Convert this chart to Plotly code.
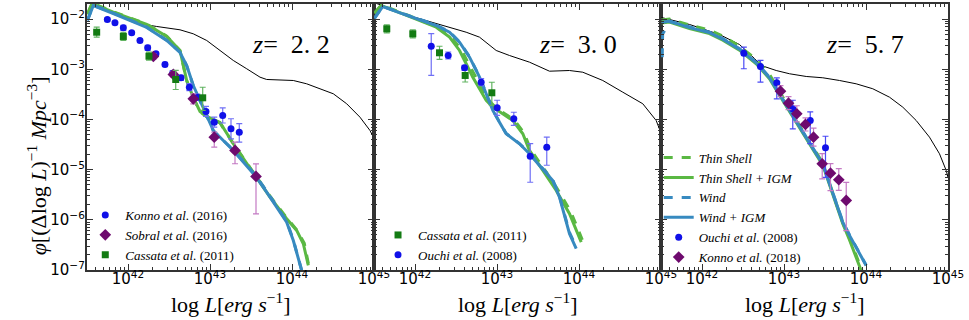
import plotly.graph_objects as go
from plotly.subplots import make_subplots

# values: log10 L [erg/s] and log10 phi [Mpc^-3 dex^-1]

# ---------------- z = 2.2 ----------------
z22_model_logL = [41.506, 41.618, 41.780, 41.984, 42.146, 42.350, 42.634, 42.796, 42.960, 43.122,
                  43.284, 43.448, 43.610, 43.691, 43.854, 44.016, 44.179, 44.341, 44.504, 44.667,
                  44.829, 44.951, 45.0]
z22_model_logphi = [-1.66, -1.730, -1.863, -1.995, -2.094, -2.148, -2.214, -2.294, -2.427, -2.626,
                    -2.825, -2.991, -3.158, -3.204, -3.210, -3.224, -3.290, -3.389, -3.489, -3.688,
                    -3.955, -4.220, -4.38]

z22_wind_igm_logL = [41.506, 41.577, 41.821, 42.228, 42.472, 42.634, 42.716, 42.796, 42.878, 42.960,
                     43.040, 43.284, 43.549, 43.691, 43.854, 43.935, 44.016, 44.098, 44.118]
z22_wind_igm_logphi = [-2.029, -1.730, -1.889, -2.168, -2.427, -2.666, -2.925, -3.324, -3.622, -3.921,
                       -4.220, -4.618, -5.116, -5.449, -5.848, -6.047, -6.412, -6.876, -7.01]
z22_wind_logL = [41.506, 41.577, 41.821, 42.228, 42.472, 42.634, 42.716, 42.796, 42.878, 42.960,
                 43.040, 43.284, 43.549, 43.691, 43.854, 43.935, 44.016, 44.098, 44.12]
z22_wind_logphi = [-2.02, -1.725, -1.880, -2.160, -2.420, -2.660, -2.930, -3.330, -3.630, -3.925,
                   -4.225, -4.610, -5.100, -5.430, -5.830, -6.030, -6.400, -6.860, -7.02]

z22_shell_igm_logL = [41.506, 41.561, 41.821, 42.228, 42.472, 42.634, 42.716, 42.796, 42.878, 42.960,
                      43.040, 43.122, 43.284, 43.448, 43.549, 43.732, 43.935, 44.057, 44.138, 44.179,
                      44.199]
z22_shell_igm_logphi = [-1.909, -1.69, -1.863, -2.108, -2.347, -2.626, -3.224, -3.563, -3.841, -3.941,
                        -4.001, -4.061, -4.485, -4.883, -5.116, -5.549, -5.979, -6.212, -6.477, -6.770,
                        -6.909]
z22_shell_logL = [41.506, 41.561, 41.821, 42.228, 42.472, 42.634, 42.716, 42.796, 42.878, 42.960,
                  43.040, 43.122, 43.284, 43.448, 43.549, 43.732, 43.935, 44.057, 44.150, 44.190,
                  44.215]
z22_shell_logphi = [-1.90, -1.68, -1.855, -2.100, -2.340, -2.630, -3.230, -3.570, -3.845, -3.945,
                    -4.005, -4.070, -4.480, -4.870, -5.100, -5.530, -5.960, -6.200, -6.470, -6.760,
                    -7.00]

# Konno et al. (2016)
z22_konno_logL = [41.748, 41.841, 41.943, 42.045, 42.146, 42.240, 42.341, 42.451, 42.545, 42.646,
                  42.748, 42.845, 42.951, 43.052, 43.155, 43.256, 43.357]
z22_konno_logphi = [-2.009, -2.075, -2.174, -2.274, -2.427, -2.573, -2.692, -2.905, -3.078, -3.170,
                    -3.357, -3.557, -3.841, -4.055, -3.921, -4.186, -4.254]
z22_konno_up = [0.03, 0.03, 0.05, 0.03, 0.03, 0.05, 0.04, 0.04, 0.05, 0.05, 0.07, 0.06, 0.10, 0.10,
                0.15, 0.20, 0.17]
z22_konno_dn = [0.03, 0.03, 0.05, 0.03, 0.03, 0.05, 0.04, 0.04, 0.05, 0.05, 0.07, 0.06, 0.10, 0.10,
                0.15, 0.20, 0.20]
# Sobral et al. (2016)
z22_sobral_logL = [42.309, 42.553, 42.796, 43.052, 43.305, 43.561]
z22_sobral_logphi = [-2.746, -3.104, -3.589, -4.353, -4.618, -5.136]
z22_sobral_up = [0.06, 0.06, 0.10, 0.10, 0.165, 0.25]
z22_sobral_dn = [0.06, 0.06, 0.10, 0.20, 0.265, 0.744]
# Cassata et al. (2011)
z22_cassata_logL = [41.618, 41.943, 42.256, 42.582, 42.911]
z22_cassata_logphi = [-2.262, -2.347, -2.740, -3.204, -3.569]
z22_cassata_up = [0.10, 0.08, 0.08, 0.18, 0.21]
z22_cassata_dn = [0.10, 0.08, 0.08, 0.20, 0.25]

# ---------------- z = 3.0 ----------------
z30_model_logL = [41.51, 41.607, 41.851, 42.259, 42.624, 42.787, 42.990, 43.152, 43.396, 43.640,
                  43.884, 44.046, 44.290, 44.534, 44.778, 44.941, 45.0]
z30_model_logphi = [-1.68, -1.730, -1.895, -2.094, -2.262, -2.361, -2.626, -2.726, -2.859, -3.039,
                    -3.025, -3.059, -3.224, -3.457, -3.688, -4.021, -4.27]

z30_wind_igm_logL = [41.506, 41.607, 41.851, 42.259, 42.421, 42.543, 42.665, 42.787, 42.868, 42.949,
                     43.030, 43.112, 43.274, 43.396, 43.518, 43.680, 43.762, 43.884, 43.966]
z30_wind_igm_logphi = [-1.989, -1.750, -1.895, -2.128, -2.262, -2.461, -2.760, -3.158, -3.489, -3.821,
                       -4.055, -4.286, -4.485, -4.684, -4.917, -5.216, -5.549, -6.278, -6.576]
z30_wind_logL = [41.506, 41.607, 41.851, 42.259, 42.421, 42.543, 42.665, 42.787, 42.868, 42.949,
                 43.030, 43.112, 43.274, 43.396, 43.518, 43.680, 43.762, 43.884, 43.97]
z30_wind_logphi = [-1.98, -1.745, -1.890, -2.120, -2.255, -2.455, -2.750, -3.150, -3.480, -3.815,
                   -4.050, -4.280, -4.480, -4.675, -4.905, -5.200, -5.530, -6.250, -6.56]

z30_shell_igm_logL = [41.506, 41.588, 41.851, 42.259, 42.421, 42.543, 42.624, 42.705, 42.787, 42.868,
                      42.949, 43.071, 43.193, 43.315, 43.396, 43.559, 43.722, 43.884, 44.027]
z30_shell_igm_logphi = [-1.889, -1.730, -1.895, -2.162, -2.361, -2.626, -2.891, -3.158, -3.389, -3.622,
                        -3.756, -3.887, -4.021, -4.286, -4.618, -5.016, -5.415, -5.879, -6.445]
z30_shell_logL = [41.506, 41.588, 41.851, 42.259, 42.430, 42.565, 42.650, 42.735, 42.815, 42.895,
                  42.975, 43.090, 43.210, 43.330, 43.410, 43.575, 43.735, 43.900, 44.040]
z30_shell_logphi = [-1.88, -1.72, -1.885, -2.150, -2.340, -2.610, -2.880, -3.150, -3.380, -3.610,
                    -3.750, -3.880, -4.010, -4.270, -4.600, -4.990, -5.380, -5.840, -6.400]

# Cassata et al. (2011)
z30_cassata_logL = [41.656, 41.973, 42.299, 42.612, 42.937]
z30_cassata_logphi = [-2.194, -2.294, -2.672, -3.124, -3.469]
z30_cassata_up = [0.08, 0.08, 0.13, 0.13, 0.21]
z30_cassata_dn = [0.08, 0.08, 0.13, 0.13, 0.25]
# Ouchi et al. (2008)
z30_ouchi_logL = [42.198, 42.405, 42.604, 42.807, 43.002, 43.205, 43.405, 43.607]
z30_ouchi_logphi = [-2.541, -2.726, -2.971, -3.258, -3.768, -3.987, -4.732, -4.553]
z30_ouchi_up = [0.25, 0.07, 0.05, 0.07, 0.15, 0.13, 0.25, 0.20]
z30_ouchi_dn = [0.58, 0.07, 0.05, 0.07, 0.15, 0.13, 0.52, 0.36]

# ---------------- z = 5.7 ----------------
z57_model_logL = [41.506, 41.848, 42.213, 42.457, 42.640, 42.722, 42.905, 43.067, 43.271, 43.473,
                  43.677, 43.880, 44.083, 44.287, 44.449, 44.612, 44.774, 44.896, 44.978, 45.0]
z57_model_logphi = [-1.969, -2.108, -2.308, -2.507, -2.786, -2.925, -3.025, -3.090, -3.144, -3.170,
                    -3.224, -3.290, -3.389, -3.557, -3.756, -4.021, -4.353, -4.684, -5.017, -5.156]

z57_wind_igm_logL = [41.506, 41.604, 41.848, 42.091, 42.254, 42.457, 42.661, 42.823, 42.945, 43.067,
                     43.189, 43.311, 43.372, 43.473, 43.555, 43.637, 43.717, 43.799, 43.880, 44.002]
z57_wind_igm_logphi = [-2.07, -2.04, -2.17, -2.27, -2.40, -2.60, -2.87, -3.17, -3.50, -3.83,
                       -4.16, -4.49, -4.63, -4.89, -5.28, -5.68, -6.05, -6.31, -6.55, -6.91]
z57_wind_logL = [41.515, 41.520, 41.604, 41.848, 42.091, 42.254, 42.457, 42.661, 42.823, 42.945,
                 43.067, 43.189, 43.311, 43.372, 43.473, 43.555, 43.637, 43.717, 43.799, 43.880,
                 44.000]
z57_wind_logphi = [-2.76, -2.30, -2.05, -2.16, -2.26, -2.39, -2.59, -2.86, -3.16, -3.49,
                   -3.82, -4.15, -4.48, -4.62, -4.88, -5.27, -5.67, -6.04, -6.30, -6.54, -6.90]

z57_shell_igm_logL = [41.506, 41.604, 41.848, 42.091, 42.254, 42.457, 42.661, 42.823, 42.945, 43.067,
                      43.189, 43.311, 43.372, 43.473, 43.555, 43.637, 43.717, 43.799, 43.880, 43.950]
z57_shell_igm_logphi = [-2.08, -2.06, -2.19, -2.29, -2.42, -2.62, -2.89, -3.19, -3.52, -3.85,
                        -4.18, -4.51, -4.65, -4.91, -5.30, -5.70, -6.08, -6.40, -6.75, -7.05]
z57_shell_logL = [41.506, 41.604, 41.848, 42.091, 42.254, 42.457, 42.661, 42.823, 42.945, 43.067,
                  43.189, 43.311, 43.372, 43.473, 43.555, 43.637, 43.717, 43.799, 43.880, 43.950]
z57_shell_logphi = [-2.02, -2.00, -2.12, -2.22, -2.34, -2.54, -2.80, -3.10, -3.44, -3.78,
                    -4.12, -4.46, -4.60, -4.87, -5.27, -5.67, -6.06, -6.37, -6.70, -7.00]

# Ouchi et al. (2008)
z57_ouchi_logL = [42.510, 42.713, 42.912, 43.107, 43.320, 43.506]
z57_ouchi_logphi = [-2.680, -2.945, -3.270, -3.788, -4.021, -4.565]
z57_ouchi_up = [0.12, 0.12, 0.10, 0.17, 0.17, 0.23]
z57_ouchi_dn = [0.31, 0.31, 0.32, 0.40, 0.46, 0.59]
# Konno et al. (2018)
z57_konno_logL = [42.957, 43.055, 43.156, 43.262, 43.360, 43.466, 43.567, 43.668, 43.759]
z57_konno_logphi = [-3.437, -3.676, -3.887, -4.100, -4.353, -4.883, -5.070, -5.202, -5.614]
z57_konno_up = [0.11, 0.13, 0.16, 0.13, 0.18, 0.20, 0.19, 0.22, 0.36]
z57_konno_dn = [0.11, 0.13, 0.16, 0.13, 0.18, 0.30, 0.35, 0.21, 0.60]

GREEN = "#5ab843"
BLUE = "#378ac0"
SERIF = "Liberation Serif"


def lin(v):
    return [10 ** a for a in v]


def model_lines(fig, col, model, shell, shell_igm, wind, wind_igm, legend=None):
    show = legend is not None
    fig.add_trace(go.Scatter(x=lin(model[0]), y=lin(model[1]), mode="lines",
                             line=dict(color="black", width=1), showlegend=False), row=1, col=col)
    styles = [("<i>Thin Shell</i>", shell, GREEN, "dash"),
              ("<i>Thin Shell + IGM</i>", shell_igm, GREEN, "solid"),
              ("<i>Wind</i>", wind, BLUE, "dash"),
              ("<i>Wind + IGM</i>", wind_igm, BLUE, "solid")]
    for name, (xs, ys), color, dash in styles:
        fig.add_trace(go.Scatter(x=lin(xs), y=lin(ys), mode="lines", name=name,
                                 line=dict(color=color, width=3, dash=dash),
                                 showlegend=show, legend=legend or "legend"), row=1, col=col)


def points(fig, col, name, logL, logphi, up, dn, symbol, color, ecolor, size, legend):
    y = lin(logphi)
    plus = [10 ** (a + u) - 10 ** a for a, u in zip(logphi, up)]
    minus = [10 ** a - 10 ** (a - d) for a, d in zip(logphi, dn)]
    fig.add_trace(go.Scatter(x=lin(logL), y=y, mode="markers", name=name,
                             marker=dict(symbol=symbol, color=color, size=size),
                             error_y=dict(type="data", array=plus, arrayminus=minus,
                                          color=ecolor, thickness=1.2, width=3),
                             legend=legend), row=1, col=col)


fig = make_subplots(rows=1, cols=3, shared_yaxes=True, horizontal_spacing=0)

model_lines(fig, 1, (z22_model_logL, z22_model_logphi), (z22_shell_logL, z22_shell_logphi),
            (z22_shell_igm_logL, z22_shell_igm_logphi), (z22_wind_logL, z22_wind_logphi),
            (z22_wind_igm_logL, z22_wind_igm_logphi))
points(fig, 1, "<i>Konno et al.</i> (2016)", z22_konno_logL, z22_konno_logphi, z22_konno_up, z22_konno_dn,
       "circle", "#1010e8", "#6f6ff5", 7, "legend")
points(fig, 1, "<i>Sobral et al.</i> (2016)", z22_sobral_logL, z22_sobral_logphi, z22_sobral_up, z22_sobral_dn,
       "diamond", "#6e0a6e", "#c47ac4", 9, "legend")
points(fig, 1, "<i>Cassata et al.</i> (2011)", z22_cassata_logL, z22_cassata_logphi, z22_cassata_up,
       z22_cassata_dn, "square", "#137b13", "#62b462", 7, "legend")

model_lines(fig, 2, (z30_model_logL, z30_model_logphi), (z30_shell_logL, z30_shell_logphi),
            (z30_shell_igm_logL, z30_shell_igm_logphi), (z30_wind_logL, z30_wind_logphi),
            (z30_wind_igm_logL, z30_wind_igm_logphi))
points(fig, 2, "<i>Cassata et al.</i> (2011)", z30_cassata_logL, z30_cassata_logphi, z30_cassata_up,
       z30_cassata_dn, "square", "#137b13", "#62b462", 7, "legend2")
points(fig, 2, "<i>Ouchi et al.</i> (2008)", z30_ouchi_logL, z30_ouchi_logphi, z30_ouchi_up, z30_ouchi_dn,
       "circle", "#1010e8", "#6f6ff5", 7, "legend2")

model_lines(fig, 3, (z57_model_logL, z57_model_logphi), (z57_shell_logL, z57_shell_logphi),
            (z57_shell_igm_logL, z57_shell_igm_logphi), (z57_wind_logL, z57_wind_logphi),
            (z57_wind_igm_logL, z57_wind_igm_logphi), legend="legend3")
points(fig, 3, "<i>Ouchi et al.</i> (2008)", z57_ouchi_logL, z57_ouchi_logphi, z57_ouchi_up, z57_ouchi_dn,
       "circle", "#1010e8", "#4a4af5", 7, "legend3")
points(fig, 3, "<i>Konno et al.</i> (2018)", z57_konno_logL, z57_konno_logphi, z57_konno_up, z57_konno_dn,
       "diamond", "#6e0a6e", "#c47ac4", 9, "legend3")

axis_common = dict(type="log", showline=True, linecolor="#333333", linewidth=1.5, mirror="allticks",
                   ticks="inside", ticklen=6, tickcolor="#333333", showgrid=False, zeroline=False,
                   automargin=False, dtick=1, exponentformat="power",
                   tickfont=dict(family="DejaVu Sans", size=12, color="black"),
                   minor=dict(ticks="inside", ticklen=3, tickcolor="#333333", showgrid=False))
for i in range(1, 4):
    fig.update_xaxes(axis_common, range=[41.5, 45], ticklabelstandoff=-5, row=1, col=i)
    fig.update_yaxes(axis_common, range=[-7, -1.7], ticklabelstandoff=-2, row=1, col=i)

# axis titles, one x title centred under each panel
xtitle = "log <i>L</i>[<i>erg s</i><sup>−1</sup>]"
for xp in [1 / 6, 0.5, 5 / 6]:
    fig.add_annotation(x=xp, y=-0.124, xref="paper", yref="paper", showarrow=False,
                       xanchor="center", yanchor="middle",
                       text=xtitle, font=dict(family=SERIF, size=22, color="black"))
fig.add_annotation(x=-0.058, y=0.39, xref="paper", yref="paper", showarrow=False, textangle=-90,
                   xanchor="center", yanchor="middle",
                   text="<i>φ</i>[(Δlog <i>L</i>)<sup>−1</sup> <i>Mpc</i><sup>−3</sup>]",
                   font=dict(family=SERIF, size=22, color="black"))

for xp, label in [(0.2369, "2.2"), (0.5703, "3.0"), (0.9036, "5.7")]:
    fig.add_annotation(x=xp, y=0.846, xref="paper", yref="paper", showarrow=False,
                       xanchor="center", yanchor="middle",
                       text="<i>z</i>=  " + label.replace(".", ". "),
                       font=dict(family=SERIF, size=26, color="black"))

legend_style = dict(bgcolor="rgba(0,0,0,0)", font=dict(family=SERIF, size=13, color="black"),
                    xanchor="left", yanchor="bottom", tracegroupgap=0, itemwidth=30)
fig.update_layout(
    width=969, height=320,
    margin=dict(l=87, r=21, t=4, b=50),
    plot_bgcolor="white", paper_bgcolor="white",
    legend=dict(legend_style, x=-0.002, y=0.0),
    legend2=dict(legend_style, x=0.338, y=0.0),
    legend3=dict(legend_style, x=0.664, y=-0.01),
)

# the page body has a default 8px margin; drop it so the figure sits at the window's corner
fig.write_html("out.html", config={"displayModeBar": False},
               post_script="document.body.style.margin = '0';")
